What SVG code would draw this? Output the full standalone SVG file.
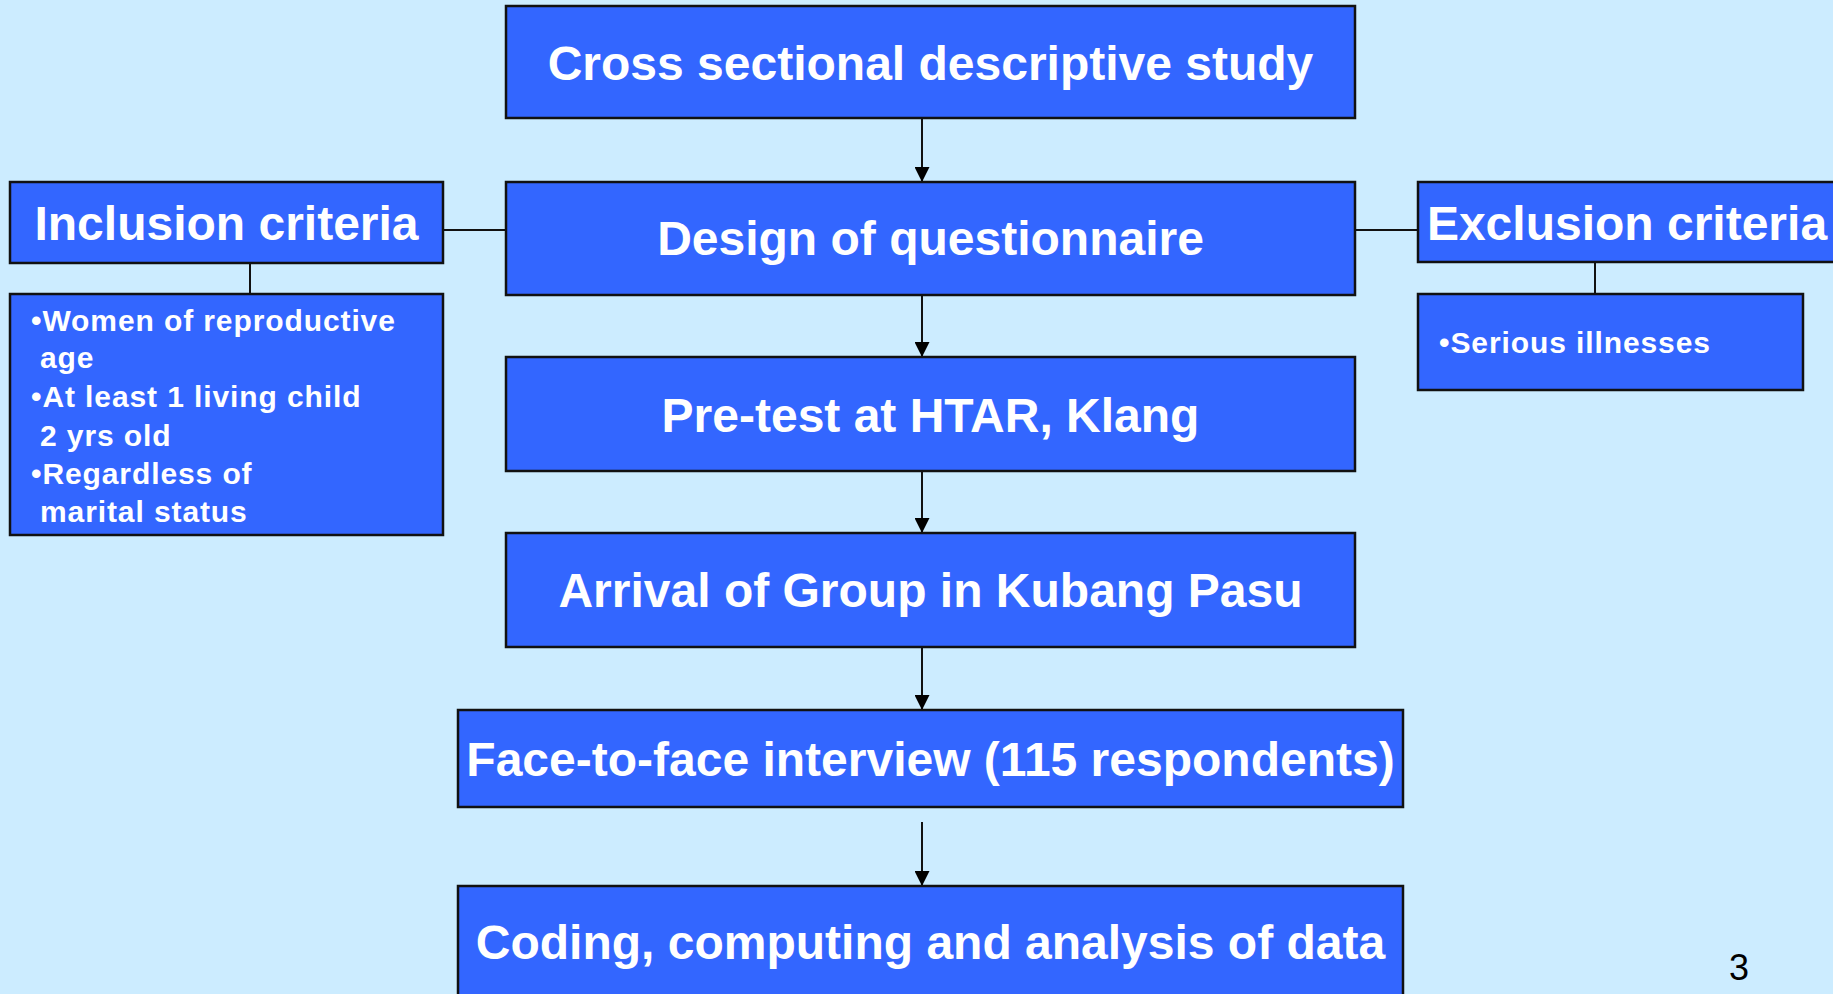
<svg xmlns="http://www.w3.org/2000/svg" width="1833" height="994" viewBox="0 0 1833 994">
<style>
.box{fill:#3366FF;stroke:#111;stroke-width:2.5}
.t{font-family:"Liberation Sans",Arial,sans-serif;font-weight:bold;font-size:48px;fill:#fff;text-anchor:middle}
.b{font-family:"Liberation Sans",Arial,sans-serif;font-weight:bold;font-size:30px;fill:#fff;letter-spacing:0.9px}
.ln{stroke:#111;stroke-width:2;fill:none}
.ar{stroke:#111;stroke-width:2;fill:none;marker-end:url(#arr)}
</style>
<defs>
<marker id="arr" markerUnits="userSpaceOnUse" markerWidth="15" markerHeight="15" viewBox="0 0 15 15" refX="15" refY="7.5" orient="auto">
<path d="M0,0 L15,7.5 L0,15 Z" fill="#000"/>
</marker>
</defs>
<rect width="1833" height="994" fill="#CCECFF"/>
<g id="connectors">
<line class="ar" x1="922" y1="118" x2="922" y2="182"/>
<line class="ar" x1="922" y1="295" x2="922" y2="357"/>
<line class="ar" x1="922" y1="471" x2="922" y2="533"/>
<line class="ar" x1="922" y1="647" x2="922" y2="710"/>
<line class="ar" x1="922" y1="822" x2="922" y2="886"/>
<line class="ln" x1="443" y1="230" x2="506" y2="230"/>
<line class="ln" x1="1355" y1="230" x2="1418" y2="230"/>
<line class="ln" x1="250" y1="263" x2="250" y2="294"/>
<line class="ln" x1="1595" y1="262" x2="1595" y2="294"/>
</g>
<g id="cross">
<rect class="box" x="506" y="6" width="849" height="112"/>
<text class="t" x="930.5" y="80">Cross sectional descriptive study</text>
</g>
<g id="design">
<rect class="box" x="506" y="182" width="849" height="113"/>
<text class="t" x="930.5" y="255">Design of questionnaire</text>
</g>
<g id="pretest">
<rect class="box" x="506" y="357" width="849" height="114"/>
<text class="t" x="930.5" y="432">Pre-test at HTAR, Klang</text>
</g>
<g id="arrival">
<rect class="box" x="506" y="533" width="849" height="114"/>
<text class="t" x="930.5" y="607">Arrival of Group in Kubang Pasu</text>
</g>
<g id="interview">
<rect class="box" x="458" y="710" width="945" height="97"/>
<text class="t" x="930.5" y="776">Face-to-face interview (115 respondents)</text>
</g>
<g id="coding">
<rect class="box" x="458" y="886" width="945" height="120"/>
<text class="t" x="930.5" y="959">Coding, computing and analysis of data</text>
</g>
<g id="inclusion">
<rect class="box" x="10" y="182" width="433" height="81"/>
<text class="t" x="226.5" y="240">Inclusion criteria</text>
</g>
<g id="inclusion-list">
<rect class="box" x="10" y="294" width="433" height="241"/>
<text class="b" x="31" y="331">•Women of reproductive</text>
<text class="b" x="40" y="368">age</text>
<text class="b" x="31" y="407">•At least 1 living child</text>
<text class="b" x="40" y="446">2 yrs old</text>
<text class="b" x="31" y="484">•Regardless of</text>
<text class="b" x="40" y="522">marital status</text>
</g>
<g id="exclusion">
<rect class="box" x="1418" y="182" width="420" height="80"/>
<text class="t" x="1627" y="240">Exclusion criteria</text>
</g>
<g id="exclusion-list">
<rect class="box" x="1418" y="294" width="385" height="96"/>
<text class="b" x="1439" y="353">•Serious illnesses</text>
</g>
<text x="1729" y="980" font-family="Liberation Sans, Arial, sans-serif" font-size="36" fill="#000">3</text>
</svg>
